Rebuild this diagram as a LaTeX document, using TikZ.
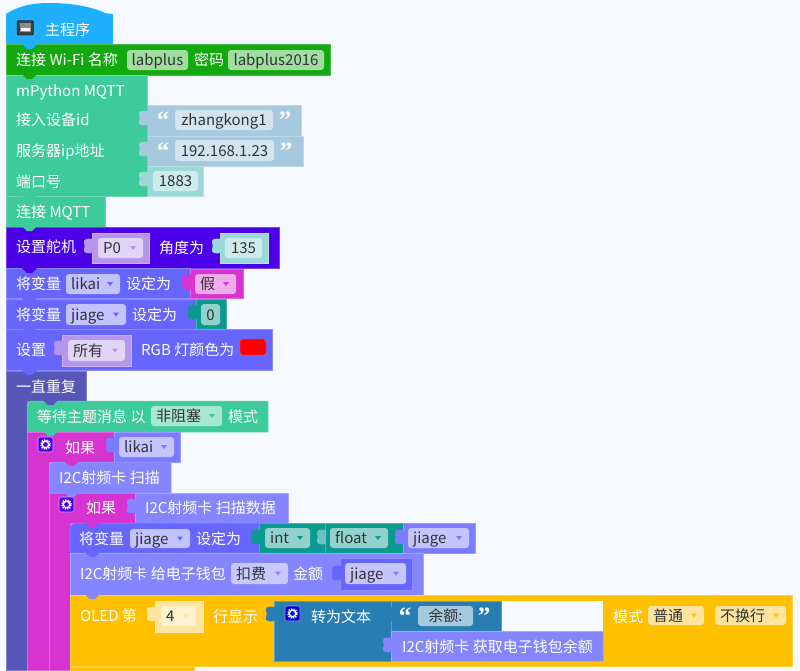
\documentclass[tikz,border=0pt]{standalone}
\usepackage{fontspec}
\setmainfont{Noto Sans CJK SC}
\newfontfamily\quotefont{Liberation Serif}
\definecolor{pagebg}{HTML}{F6F9FF}
\definecolor{hatblue}{HTML}{1EAFFF}
\definecolor{wifigreen}{HTML}{12A90F}
\definecolor{mqttgreen}{HTML}{3ECB9B}
\definecolor{strblue}{HTML}{A6C9DF}
\definecolor{numteal}{HTML}{9BD8D8}
\definecolor{servoviolet}{HTML}{4B00E8}
\definecolor{varblue}{HTML}{6666FF}
\definecolor{varlight}{HTML}{7B7BFF}
\definecolor{i2cblue}{HTML}{8585FF}
\definecolor{lilac}{HTML}{B596EC}
\definecolor{magentablk}{HTML}{D633D0}
\definecolor{tealblk}{HTML}{0B9A90}
\definecolor{loopblue}{HTML}{5655B8}
\definecolor{olive}{HTML}{FFC000}
\definecolor{oledlight}{HTML}{FFE4A0}
\definecolor{textblue}{HTML}{287EB3}
\tikzset{
    block/.style={line width=0.5pt},
    field/.style={rounded corners=3pt},
    blocktext/.style={anchor=west, inner sep=0pt, text=white, font=\fontsize{15}{16}\selectfont, text height=12pt, text depth=1pt},
    fieldtext/.style={blocktext, text=black!80},
    quotemark/.style={inner sep=0pt, text=white, font=\fontsize{25}{25}\quotefont\bfseries}
}
% plain block from its corners
\newcommand{\blockbox}[5]{\draw [block, fill=#5, draw=#5!75!white] (#1,#2) rectangle (#3,#4);}
% block whose top left corner is rounded (first one inside a loop or an if)
\newcommand{\innerbox}[5]{\draw [block, fill=#5, draw=#5!75!white] (#1,#4) -- (#1,#2+5) to[out=90,in=180] (#1+5,#2) -- (#3,#2) -- (#3,#4) -- cycle;}
% connector tab hanging below a statement
\newcommand{\tabdown}[3]{\fill [#3] (#1+15,#2-1) -- (#1+20,#2+4) -- (#1+25,#2+4) -- (#1+30,#2-1) -- cycle;}
% puzzle tab left of a value block
\newcommand{\inputtab}[3]{\fill [#3] (#1+1,#2+6) .. controls (#1-5,#2+5) and (#1-9,#2+6) .. (#1-8,#2+10) .. controls (#1-7,#2+12) and (#1-7,#2+14) .. (#1-8,#2+16) .. controls (#1-9,#2+20) and (#1-5,#2+21) .. (#1+1,#2+20) -- cycle;}
% field with a dropdown triangle: name, x0, y0, x1, y1, fill, arrow colour, text
\newcommand{\dropfield}[8]{
    \draw [field, fill=#6, draw=none] (#2,#3) rectangle (#4,#5);
    \node (#1) [fieldtext] at (#2+5,#3/2+#5/2) {#8};
    \fill [#7] (#4-13,#3/2+#5/2-2) -- (#4-7,#3/2+#5/2-2) -- (#4-10,#3/2+#5/2+2) -- cycle;
}
% field with centred text
\newcommand{\textfield}[7]{
    \draw [field, fill=#6, draw=none] (#2,#3) rectangle (#4,#5);
    \node (#1) [fieldtext, anchor=center] at (#2/2+#4/2,#3/2+#5/2) {#7};
}
% settings icon
\newcommand{\gearicon}[3]{
    \draw [rounded corners=2pt, fill=#3, draw=white!70!#3, line width=0.6pt] (#1,#2) rectangle (#1+15,#2+15);
    \draw [white, line width=2pt, dash pattern=on 1.2pt off 1.1pt] (#1+7.5,#2+7.5) circle [radius=4.4pt];
    \draw [white, line width=1.3pt] (#1+7.5,#2+7.5) circle [radius=3.2pt];
}
\begin{document}
\begin{tikzpicture}[x=1pt, y=-1pt]

    \useasboundingbox (0,0) rectangle (800,670);
    \fill [pagebg] (0,0) rectangle (800,670);

    % main program hat
    \fill [hatblue] (6,14) .. controls (20,5) and (35,3) .. (48,3) .. controls (70,3) and (90,6) .. (105,13) -- (113,14) -- (113,45) -- (6,45) -- cycle;
    \draw [rounded corners=1.5pt, fill=black!75] (17,20.5) rectangle (33.5,35);
    \fill [black!45] (20,23) rectangle (31,32);
    \fill [white] (21,28) rectangle (30,30.5);
    \node (mainlabel) [blocktext] at (45,30) {主程序};

    % wifi
    \blockbox{6}{44}{330}{75}{wifigreen}
    \tabdown{7}{45}{hatblue}
    \node (wifilabel) [blocktext] at (16,60) {连接 Wi-Fi 名称};
    \textfield{wifiname}{127}{50}{188}{70}{wifigreen!40!white}{labplus}
    \node (wifipass) [blocktext] at (194,60) {密码};
    \textfield{wifikey}{228}{50}{324}{70}{wifigreen!40!white}{labplus2016}

    % mqtt client
    \blockbox{147}{105}{301}{136}{strblue}
    \blockbox{147}{136}{303}{166}{strblue}
    \blockbox{147}{166}{203}{196}{numteal}
    \blockbox{6}{75}{147}{196}{mqttgreen}
    \tabdown{7}{75}{wifigreen}
    \inputtab{147}{105}{strblue}
    \inputtab{147}{136}{strblue}
    \inputtab{147}{166}{numteal}
    \node (mqttlabel) [blocktext] at (16,91) {mPython MQTT};
    \node (idlabel) [blocktext] at (16,120) {接入设备id};
    \node (iplabel) [blocktext] at (16,151) {服务器ip地址};
    \node (portlabel) [blocktext] at (16,182) {端口号};
    \node (idopen) [quotemark] at (163,120) {“};
    \textfield{idfield}{175}{110}{273}{130}{strblue!50!white}{zhangkong1}
    \node (idclose) [quotemark] at (285,120) {”};
    \node (ipopen) [quotemark] at (163,151) {“};
    \textfield{ipfield}{175}{140}{274}{161}{strblue!50!white}{192.168.1.23}
    \node (ipclose) [quotemark] at (286,151) {”};
    \textfield{portfield}{153}{171}{198}{191}{numteal!50!white}{1883}

    % connect
    \blockbox{6}{196}{105}{227}{mqttgreen}
    \tabdown{7}{196}{mqttgreen}
    \node (connectlabel) [blocktext] at (16,212) {连接 MQTT};

    % servo
    \blockbox{6}{227}{279}{268}{servoviolet}
    \tabdown{7}{227}{mqttgreen}
    \node (servolabel) [blocktext] at (16,247) {设置舵机};
    \blockbox{92}{233}{149}{263}{lilac}
    \inputtab{92}{233}{lilac}
    \dropfield{servopin}{98}{238}{143}{258}{lilac!40!white}{lilac}{P0}
    \node (anglelabel) [blocktext] at (159,248) {角度为};
    \blockbox{220}{233}{268}{263}{numteal}
    \inputtab{220}{233}{numteal}
    \textfield{anglefield}{225}{238}{262}{258}{numteal!50!white}{135}

    % likai
    \blockbox{6}{268}{190}{298}{varblue}
    \tabdown{7}{269}{servoviolet}
    \node (setlikai) [blocktext] at (16,284) {将变量};
    \dropfield{likainame}{66}{274}{120}{294}{varblue!40!white}{varblue}{likai}
    \node (setlikaito) [blocktext] at (126,284) {设定为};
    \blockbox{190}{269}{243}{298}{magentablk}
    \inputtab{190}{269}{magentablk}
    \dropfield{falsefield}{195}{274}{236}{294}{magentablk!40!white}{magentablk}{假}

    % jiage
    \blockbox{6}{299}{196}{329}{varblue}
    \tabdown{7}{299}{varblue}
    \node (setjiage) [blocktext] at (16,315) {将变量};
    \dropfield{jiagename}{66}{304}{126}{325}{varblue!40!white}{varblue}{jiage}
    \node (setjiageto) [blocktext] at (132,315) {设定为};
    \blockbox{196}{299}{226}{329}{tealblk}
    \inputtab{196}{299}{tealblk}
    \textfield{zerofield}{201}{304}{220}{325}{tealblk!45!white}{0}

    % rgb
    \blockbox{6}{329}{272}{370}{varblue}
    \tabdown{7}{329}{varblue}
    \node (rgbset) [blocktext] at (16,350) {设置};
    \blockbox{62}{335}{131}{366}{lilac}
    \inputtab{62}{335}{lilac}
    \dropfield{rgbwhich}{68}{340}{125}{361}{lilac!40!white}{lilac}{所有}
    \node (rgblabel) [blocktext] at (141,350) {RGB 灯颜色为};
    \draw [field, fill=red, draw=red!70!white] (240,339) rectangle (266,355);

    % forever
    \draw [block, fill=loopblue, draw=loopblue!75!white] (6,371) -- (86,371) -- (86,401) -- (27,401) -- (27,670) -- (6,670) -- cycle;
    \tabdown{7}{371}{varblue}
    \node (foreverlabel) [blocktext] at (16,387) {一直重复};

    % wait for topic
    \innerbox{27}{401}{268}{432}{mqttgreen}
    \tabdown{28}{401}{loopblue}
    \node (waitlabel) [blocktext] at (37,417) {等待主题消息 以};
    \dropfield{waitmode}{151}{406}{222}{426}{mqttgreen!45!white}{mqttgreen}{非阻塞}
    \node (waitmodelabel) [blocktext] at (228,417) {模式};

    % if likai
    \draw [block, fill=magentablk, draw=magentablk!75!white] (27,432) -- (114,432) -- (114,462) -- (49,462) -- (49,670) -- (27,670) -- cycle;
    \tabdown{28}{432}{mqttgreen}
    \gearicon{38}{437}{servoviolet}
    \node (ifone) [blocktext] at (65,448) {如果};
    \blockbox{114}{432}{180}{462}{varlight}
    \inputtab{114}{432}{varlight}
    \dropfield{iflikai}{119}{437}{174}{457}{varlight!45!white}{varlight}{likai}

    % scan
    \innerbox{49}{462}{171}{493}{i2cblue}
    \tabdown{49}{462}{magentablk}
    \node (scanlabel) [blocktext] at (59,478) {I2C射频卡 扫描};

    % if scan data
    \draw [block, fill=magentablk, draw=magentablk!75!white] (49,493) -- (135,493) -- (135,523) -- (70,523) -- (70,670) -- (49,670) -- cycle;
    \tabdown{49}{493}{i2cblue}
    \gearicon{59}{497}{servoviolet}
    \node (iftwo) [blocktext] at (86,508) {如果};
    \blockbox{135}{493}{288}{523}{i2cblue}
    \inputtab{135}{493}{i2cblue}
    \node (scandata) [blocktext] at (145,508) {I2C射频卡 扫描数据};

    % jiage = int(float(jiage))
    \innerbox{70}{523}{259}{553}{varblue}
    \tabdown{70}{523}{magentablk}
    \node (setprice) [blocktext] at (79,539) {将变量};
    \dropfield{pricename}{130}{529}{190}{548}{varblue!40!white}{varblue}{jiage}
    \node (setpriceto) [blocktext] at (196,539) {设定为};
    \blockbox{259}{523}{325}{553}{tealblk}
    \inputtab{259}{524}{tealblk}
    \dropfield{intfield}{265}{528}{310}{548}{tealblk!45!white}{tealblk}{int}
    \blockbox{325}{523}{403}{553}{tealblk}
    \inputtab{325}{524}{tealblk!60!white}
    \dropfield{floatfield}{330}{528}{388}{548}{tealblk!45!white}{tealblk}{float}
    \blockbox{403}{523}{475}{553}{varlight}
    \inputtab{403}{524}{varlight}
    \dropfield{pricevalue}{408}{528}{469}{548}{varlight!45!white}{varlight}{jiage}

    % wallet
    \blockbox{70}{553}{423}{595}{i2cblue}
    \tabdown{70}{553}{varblue}
    \node (walletlabel) [blocktext] at (80,574) {I2C射频卡 给电子钱包};
    \dropfield{walletmode}{231}{563}{288}{584}{i2cblue!45!white}{i2cblue}{扣费}
    \node (amountlabel) [blocktext] at (293,574) {金额};
    \blockbox{340}{558}{412}{590}{varblue}
    \inputtab{340}{560}{varblue}
    \dropfield{amountvalue}{345}{563}{406}{584}{varlight!45!white}{varlight}{jiage}

    % oled
    \blockbox{70}{595}{792}{666}{olive}
    \tabdown{70}{595}{i2cblue}
    \node (oledlabel) [blocktext] at (80,616) {OLED 第};
    \blockbox{155}{601}{203}{632}{oledlight}
    \inputtab{155}{601}{oledlight}
    \dropfield{oledline}{161}{606}{196}{626}{oledlight!50!white}{oledlight}{4}
    \node (oledshow) [blocktext] at (213,617) {行显示};
    \blockbox{274}{601}{391}{661}{textblue}
    \inputtab{274}{601}{textblue}
    \gearicon{285}{606}{blue!85!black}
    \node (totext) [blocktext] at (311,617) {转为文本};
    \fill [pagebg] (391,601) rectangle (603,631);
    \blockbox{391}{601}{501}{631}{textblue}
    \inputtab{391}{601}{textblue}
    \node (restopen) [quotemark] at (405,616) {“};
    \textfield{restfield}{418}{606}{473}{626}{strblue}{余额:}
    \node (restclose) [quotemark] at (484,616) {”};
    \blockbox{391}{631}{603}{661}{i2cblue}
    \inputtab{391}{632}{i2cblue}
    \node (restlabel) [blocktext] at (402,647) {I2C射频卡 获取电子钱包余额};
    \node (oledmode) [blocktext] at (613,617) {模式};
    \dropfield{oledkind}{648}{606}{704}{625}{oledlight}{olive}{普通}
    \dropfield{oledwrap}{715}{606}{786}{625}{oledlight}{olive}{不换行}

    % next block, cut off by the page
    \blockbox{70}{667}{194}{672}{olive}

\end{tikzpicture}
\end{document}
